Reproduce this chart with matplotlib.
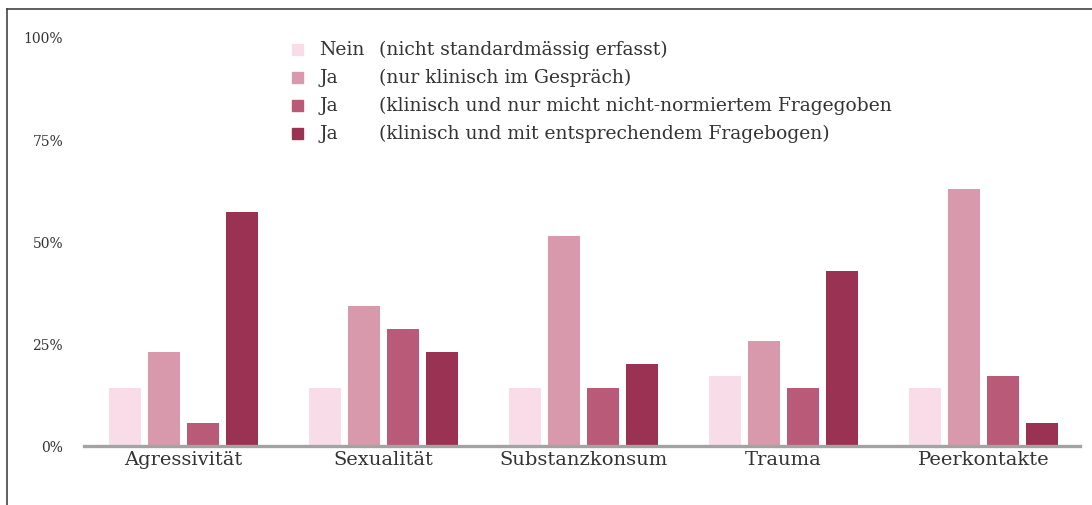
import numpy as np
import matplotlib.pyplot as plt
from matplotlib.lines import Line2D
from matplotlib.patches import Rectangle

# data (share of clinics, n = 35)
categories = ['Agressivität', 'Sexualität', 'Substanzkonsum', 'Trauma', 'Peerkontakte']
nein = [14.3, 14.3, 14.3, 17.1, 14.3]
ja_gespraech = [22.9, 34.3, 51.4, 25.7, 62.9]
ja_nicht_normiert = [5.7, 28.6, 14.3, 14.3, 17.1]
ja_fragebogen = [57.1, 22.9, 20.0, 42.9, 5.7]

series = [nein, ja_gespraech, ja_nicht_normiert, ja_fragebogen]
legend_short = ['Nein', 'Ja', 'Ja', 'Ja']
legend_long = ['(nicht standardmässig erfasst)',
               '(nur klinisch im Gespräch)',
               '(klinisch und nur micht nicht-normiertem Fragegoben',
               '(klinisch und mit entsprechendem Fragebogen)']
y_ticks = [0, 25, 50, 75, 100]
y_ticklabels = ['0%', '25%', '50%', '75%', '100%']

colors = ['#f8dde8', '#d999ad', '#b95b78', '#9a3353']
text_col = '#333333'
font = 'DejaVu Serif'

W, H = 1092, 506
fig = plt.figure(figsize=(W / 100, H / 100), dpi=100)
ax = fig.add_axes([84 / W, (H - 447) / H, (1080 - 84) / W, (447 - 38) / H])

x = np.arange(len(categories))
width = 0.16
step = 0.1935
for i, vals in enumerate(series):
    ax.bar(x + (i - 1.5) * step, vals, width, color=colors[i], zorder=2)

ax.set_xlim(-0.4975, 4.4825)
ax.set_ylim(0, 100)
ax.set_yticks(y_ticks)
ax.set_yticklabels(y_ticklabels, fontsize=10, family=font, color=text_col)
ax.set_xticks(x)
ax.set_xticklabels(categories, fontsize=14, family=font, color=text_col)
ax.tick_params(axis='both', length=0)
ax.tick_params(axis='y', pad=15)
ax.tick_params(axis='x', pad=3)
for s in ['top', 'right', 'left']:
    ax.spines[s].set_visible(False)
ax.spines['bottom'].set_color('#a3a3a3')
ax.spines['bottom'].set_linewidth(2.4)
ax.spines['bottom'].set_zorder(3)

# legend drawn by hand (two text columns)
rows = [50, 78, 106, 134]
for i, yp in enumerate(rows):
    fig.patches.append(Rectangle((292 / W, (H - yp - 5.5) / H), 11 / W, 11 / H,
                                 transform=fig.transFigure, color=colors[i]))
    fig.text(319 / W, (H - yp) / H, legend_short[i], fontsize=13.5, family=font,
             color=text_col, va='center')
    fig.text(379 / W, (H - yp) / H, legend_long[i], fontsize=13.5, family=font,
             color=text_col, va='center')

# outer frame (top and left)
fig.lines.append(Line2D([7 / W, 7 / W], [0, (H - 10) / H], transform=fig.transFigure,
                        color='#444444', lw=1.2))
fig.lines.append(Line2D([7 / W, 1], [(H - 10) / H, (H - 10) / H], transform=fig.transFigure,
                        color='#444444', lw=1.2))

fig.savefig('out.png', dpi=100)
